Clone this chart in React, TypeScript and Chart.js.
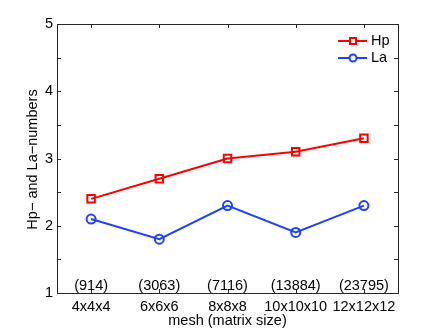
import React, { useEffect, useRef } from 'react';
import { Chart, registerables } from 'chart.js';

Chart.register(...registerables);

const CATEGORIES = ['4x4x4', '6x6x6', '8x8x8', '10x10x10', '12x12x12'];
const MATRIX_SIZES = ['(914)', '(3063)', '(7116)', '(13884)', '(23795)'];
const HP = [2.4, 2.7, 3.0, 3.1, 3.3];
const LA = [2.1, 1.8, 2.3, 1.9, 2.3];
const Y_TICKS = [1, 1.5, 2, 2.5, 3, 3.5, 4, 4.5, 5];
const ANNOT_Y = 1.1;

const FONT = "'Liberation Sans', Arial, Helvetica, sans-serif";
const FONT_SIZE = 14.5;
const RED = '#ff0000';
const BLUE = '#2040ff';
const AXIS = '#262626';

const framePlugin = {
  id: 'matlabFrame',
  afterDraw(chart: any) {
    const { ctx, chartArea: a, scales } = chart;
    const xs = scales.x;
    const ys = scales.y;
    ctx.save();
    // frame
    ctx.strokeStyle = AXIS;
    ctx.lineWidth = 1;
    ctx.strokeRect(Math.round(a.left) + 0.5, Math.round(a.top) + 0.5, Math.round(a.right - a.left), Math.round(a.bottom - a.top));
    // inward ticks
    ctx.beginPath();
    Y_TICKS.forEach((v) => {
      const py = Math.round(ys.getPixelForValue(v)) + 0.5;
      ctx.moveTo(a.left, py);
      ctx.lineTo(a.left + 4, py);
      ctx.moveTo(a.right, py);
      ctx.lineTo(a.right - 4, py);
    });
    CATEGORIES.forEach((_, i) => {
      const px = Math.round(xs.getPixelForValue(i)) + 0.5;
      ctx.moveTo(px, a.bottom);
      ctx.lineTo(px, a.bottom - 4);
      ctx.moveTo(px, a.top);
      ctx.lineTo(px, a.top + 4);
    });
    ctx.stroke();

    // matrix size annotations
    ctx.fillStyle = '#000';
    ctx.font = `${FONT_SIZE}px ${FONT}`;
    ctx.textAlign = 'center';
    ctx.textBaseline = 'middle';
    MATRIX_SIZES.forEach((s, i) => {
      ctx.fillText(s, xs.getPixelForValue(i), ys.getPixelForValue(ANNOT_Y));
    });

    // axis titles
    ctx.fillText('mesh (matrix size)', (a.left + a.right) / 2, 321);
    ctx.save();
    ctx.translate(33, (a.top + a.bottom) / 2 + 1);
    ctx.rotate(-Math.PI / 2);
    ctx.fillText('Hp\u2212 and La\u2212numbers', 0, 0);
    ctx.restore();

    // legend
    const items = chart.data.datasets;
    const rows = [41, 58];
    items.forEach((ds: any, i: number) => {
      const yy = rows[i];
      ctx.strokeStyle = ds.borderColor;
      ctx.lineWidth = 2;
      ctx.beginPath();
      ctx.moveTo(338, yy);
      ctx.lineTo(367, yy);
      ctx.stroke();
      ctx.fillStyle = '#fff';
      ctx.beginPath();
      if (ds.pointStyle === 'rect') {
        ctx.rect(353 - 3, yy - 3, 6, 6);
      } else {
        ctx.arc(353, yy, 3.5, 0, Math.PI * 2);
      }
      ctx.fill();
      ctx.stroke();
      ctx.fillStyle = '#000';
      ctx.textAlign = 'left';
      ctx.fillText(ds.label, 371, yy);
    });
    ctx.restore();
  },
};

export default function App() {
  const ref = useRef<HTMLCanvasElement | null>(null);

  useEffect(() => {
    if (!ref.current) return;
    const chart = new Chart(ref.current, {
      type: 'line',
      data: {
        labels: CATEGORIES,
        datasets: [
          {
            label: 'Hp',
            data: HP,
            borderColor: RED,
            backgroundColor: RED,
            borderWidth: 2,
            pointStyle: 'rect',
            pointRadius: 5.3,
            pointBorderWidth: 2,
            pointBackgroundColor: 'rgba(0,0,0,0)',
            pointBorderColor: RED,
            tension: 0,
          },
          {
            label: 'La',
            data: LA,
            borderColor: BLUE,
            backgroundColor: BLUE,
            borderWidth: 2,
            pointStyle: 'circle',
            pointRadius: 4.5,
            pointBorderWidth: 2,
            pointBackgroundColor: 'rgba(0,0,0,0)',
            pointBorderColor: BLUE,
            tension: 0,
          },
        ],
      },
      options: {
        animation: false,
        responsive: false,
        devicePixelRatio: 1,
        layout: { padding: { top: 24, right: 42, left: 0, bottom: 0 } },
        plugins: {
          legend: { display: false },
          tooltip: { enabled: false },
          title: { display: false },
        },
        scales: {
          x: {
            type: 'category',
            offset: true,
            grid: { display: false, drawTicks: false },
            border: { display: false },
            ticks: {
              color: '#000',
              padding: 5,
              maxRotation: 0,
              autoSkip: false,
              font: { family: FONT, size: FONT_SIZE },
            },
            afterFit: (s: any) => {
              s.height = 38;
            },
          },
          y: {
            type: 'linear',
            min: 1,
            max: 5,
            grid: { display: false, drawTicks: false },
            border: { display: false },
            afterBuildTicks: (s: any) => {
              s.ticks = Y_TICKS.map((v) => ({ value: v }));
            },
            ticks: {
              color: '#000',
              padding: 4,
              font: { family: FONT, size: FONT_SIZE },
              callback: (v: any) => (Number.isInteger(v) ? String(v) : ''),
            },
            afterFit: (s: any) => {
              s.width = 57;
            },
          },
        },
      },
      plugins: [framePlugin],
    });
    return () => chart.destroy();
  }, []);

  return (
    <div style={{ position: 'fixed', left: 0, top: 0, width: 440, height: 331, background: '#fff' }}>
      <canvas ref={ref} width={440} height={331} style={{ display: 'block', width: 440, height: 331 }} />
    </div>
  );
}
